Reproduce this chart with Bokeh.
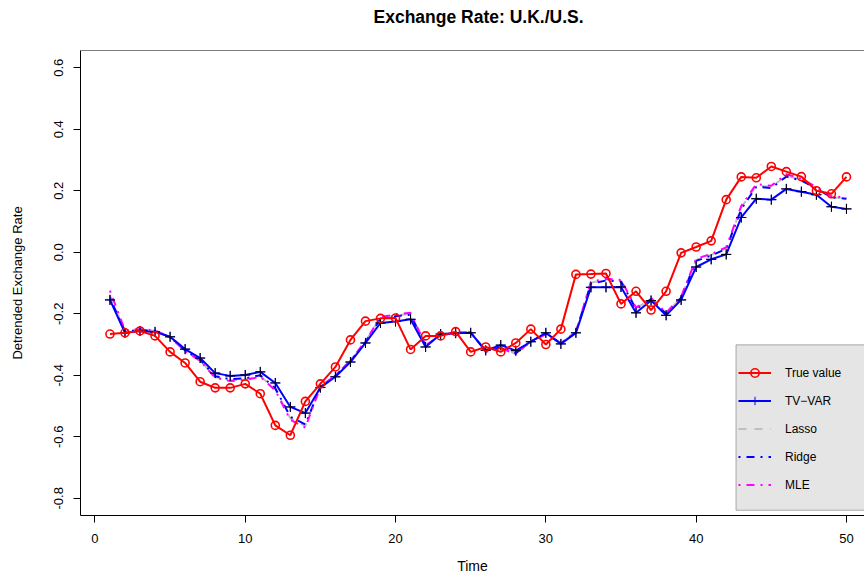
import math
from bokeh.plotting import figure
from bokeh.models import (FixedTicker, Range1d, Legend, LegendItem, BoxAnnotation,
                          Span, ColumnDataSource, Title)
from bokeh.embed import file_html
from bokeh.resources import INLINE

# ---------------- data ----------------
time = list(range(1, 51))

true_value = [-0.266, -0.262, -0.256, -0.272, -0.324, -0.360, -0.421, -0.441, -0.441, -0.428,
              -0.460, -0.563, -0.595, -0.485, -0.428, -0.373, -0.285, -0.224, -0.215, -0.214,
              -0.316, -0.272, -0.272, -0.258, -0.324, -0.308, -0.324, -0.295, -0.250, -0.300,
              -0.250, -0.072, -0.071, -0.069, -0.168, -0.127, -0.188, -0.127, -0.002, 0.017,
              0.037, 0.171, 0.245, 0.242, 0.279, 0.262, 0.246, 0.200, 0.190, 0.245]

tv_var = [-0.155, -0.262, -0.256, -0.259, -0.275, -0.315, -0.344, -0.393, -0.402, -0.399,
          -0.389, -0.425, -0.503, -0.523, -0.440, -0.405, -0.357, -0.295, -0.230, -0.225,
          -0.218, -0.308, -0.266, -0.263, -0.262, -0.319, -0.302, -0.320, -0.291, -0.262,
          -0.298, -0.262, -0.114, -0.114, -0.113, -0.197, -0.157, -0.205, -0.155, -0.048,
          -0.023, -0.007, 0.113, 0.174, 0.171, 0.206, 0.197, 0.187, 0.148, 0.141]

lasso = [-0.140, -0.256, -0.251, -0.255, -0.277, -0.320, -0.352, -0.406, -0.417, -0.413,
         -0.403, -0.446, -0.540, -0.565, -0.438, -0.401, -0.353, -0.290, -0.213, -0.205,
         -0.201, -0.303, -0.270, -0.262, -0.261, -0.323, -0.311, -0.330, -0.290, -0.266,
         -0.296, -0.260, -0.099, -0.089, -0.093, -0.183, -0.151, -0.199, -0.147, -0.025,
         -0.009, 0.013, 0.145, 0.217, 0.212, 0.249, 0.235, 0.209, 0.179, 0.175]

ridge = [-0.148, -0.258, -0.252, -0.256, -0.276, -0.319, -0.350, -0.403, -0.413, -0.410,
         -0.400, -0.442, -0.535, -0.560, -0.438, -0.402, -0.354, -0.291, -0.216, -0.208,
         -0.203, -0.304, -0.269, -0.262, -0.261, -0.322, -0.309, -0.328, -0.290, -0.265,
         -0.296, -0.261, -0.102, -0.092, -0.095, -0.185, -0.152, -0.200, -0.148, -0.028,
         -0.011, 0.011, 0.140, 0.213, 0.209, 0.246, 0.233, 0.208, 0.178, 0.174]

mle = [-0.125, -0.254, -0.250, -0.254, -0.277, -0.321, -0.353, -0.408, -0.419, -0.415,
       -0.405, -0.449, -0.545, -0.570, -0.437, -0.400, -0.352, -0.289, -0.211, -0.202,
       -0.197, -0.302, -0.271, -0.261, -0.260, -0.324, -0.312, -0.331, -0.289, -0.267,
       -0.296, -0.259, -0.096, -0.086, -0.090, -0.180, -0.149, -0.197, -0.144, -0.021,
       -0.006, 0.016, 0.150, 0.222, 0.216, 0.254, 0.239, 0.212, 0.182, 0.178]

x_ticks = [0, 10, 20, 30, 40, 50]
x_tick_labels = ["0", "10", "20", "30", "40", "50"]
y_ticks = [-0.8, -0.6, -0.4, -0.2, 0.0, 0.2, 0.4, 0.6]
y_tick_labels = ["-0.8", "-0.6", "-0.4", "-0.2", "0.0", "0.2", "0.4", "0.6"]

series_names = ["True value", "TV\u2212VAR", "Lasso", "Ridge", "MLE"]

# ---------------- figure ----------------
FONT = "Liberation Sans"

p = figure(width=864, height=576, output_backend="svg", toolbar_location=None,
           x_range=Range1d(-0.96, 51.2), y_range=Range1d(-0.856, 0.656),
           min_border_left=80, min_border_right=0, min_border_top=50, min_border_bottom=61)
p.outline_line_color = None
p.xgrid.visible = False
p.ygrid.visible = False
p.background_fill_color = "white"
p.border_fill_color = "white"

p.title.text = "Exchange Rate: U.K./U.S."
p.title.text_font = FONT
p.title.text_font_style = "bold"
p.title.text_font_size = "17.5px"
p.title.text_color = "black"
p.title.align = "left"
p.title.offset = 293
p.title.standoff = 0

# empty spacer between the frame and the title (keeps the title high up)
p.add_layout(Title(text=" ", text_font_size="1px", standoff=21), "above")

src = ColumnDataSource(dict(t=time, true_value=true_value, tv_var=tv_var,
                            lasso=lasso, ridge=ridge, mle=mle))

r_lasso = p.line("t", "lasso", source=src, line_color="#bebebe", line_width=2,
                 line_dash="8 8")
r_ridge = p.line("t", "ridge", source=src, line_color="blue", line_width=2,
                 line_dash="2 6 8 6")
r_mle = p.line("t", "mle", source=src, line_color="magenta", line_width=2,
               line_dash="2 6 8 6")
r_tv_line = p.line("t", "tv_var", source=src, line_color="blue", line_width=2)
# blue plus (used by the key) lies exactly under the black plus drawn in the plot
r_tv_key = p.scatter("t", "tv_var", source=src, marker="cross", size=10,
                     line_color="blue", line_width=1)
r_tv_pts = p.scatter("t", "tv_var", source=src, marker="cross", size=10,
                     line_color="black", line_width=1)
r_true_line = p.line("t", "true_value", source=src, line_color="red", line_width=2)
r_true_pts = p.scatter("t", "true_value", source=src, marker="circle", size=8,
                       fill_color=None, line_color="red", line_width=1.6)

# ---------------- axes ----------------
p.xaxis.ticker = FixedTicker(ticks=x_ticks)
p.xaxis.major_label_overrides = {t: l for t, l in zip(x_ticks, x_tick_labels)}
p.yaxis.ticker = FixedTicker(ticks=y_ticks)
p.yaxis.major_label_overrides = {t: l for t, l in zip(y_ticks, y_tick_labels)}

for ax in (p.xaxis, p.yaxis):
    ax.axis_line_color = "black"
    ax.axis_line_width = 1
    ax.major_tick_in = 0
    ax.major_tick_out = 7
    ax.minor_tick_in = 0
    ax.minor_tick_out = 0
    ax.major_tick_line_color = "black"
    ax.major_label_text_font = FONT
    ax.major_label_text_font_size = "13px"
    ax.major_label_text_color = "black"
    ax.axis_label_text_font = FONT
    ax.axis_label_text_font_style = "normal"
    ax.axis_label_text_color = "black"

p.xaxis.axis_label = "Time"
p.xaxis.axis_label_text_font_size = "14px"
p.xaxis.major_label_standoff = 11
p.xaxis.axis_label_standoff = 12

p.yaxis.axis_label = "Detrended Exchange Rate"
p.yaxis.axis_label_text_font_size = "13px"
p.yaxis.major_label_orientation = "vertical"
p.yaxis.major_label_standoff = 10
p.yaxis.axis_label_standoff = 27

# top edge of the box
p.add_layout(Span(location=0.656, dimension="width", line_color="black", line_width=1))

# ---------------- legend ----------------
box = BoxAnnotation(left=42.65, right=60, top=-0.301, bottom=-0.839,
                    fill_color="#e5e5e5", fill_alpha=1.0,
                    line_color="black", line_width=1)
p.add_layout(box)

legend = Legend(items=[
    LegendItem(label=series_names[0], renderers=[r_true_line, r_true_pts]),
    LegendItem(label=series_names[1], renderers=[r_tv_line, r_tv_key]),
    LegendItem(label=series_names[2], renderers=[r_lasso]),
    LegendItem(label=series_names[3], renderers=[r_ridge]),
    LegendItem(label=series_names[4], renderers=[r_mle]),
], location=(658, 20))
legend.glyph_width = 33
legend.glyph_height = 21
legend.label_height = 21
legend.spacing = 7
legend.padding = 0
legend.margin = 0
legend.label_standoff = 14
legend.background_fill_alpha = 0
legend.border_line_alpha = 0
legend.label_text_font = FONT
legend.label_text_font_size = "12px"
legend.label_text_color = "black"
p.add_layout(legend)

open("out.html", "w").write(file_html(p, INLINE))
